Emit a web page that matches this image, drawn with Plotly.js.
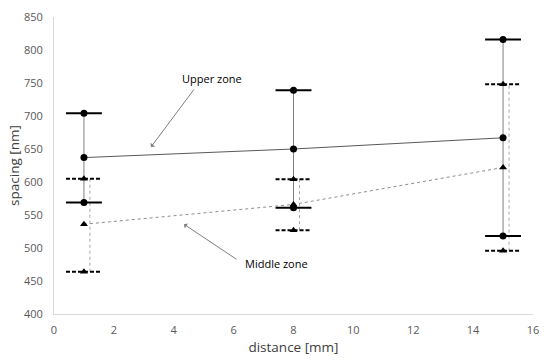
<!DOCTYPE html>
<html>
<head>
<meta charset="utf-8">
<script src="https://cdn.plot.ly/plotly-3.0.1.min.js"></script>
<style>html,body{margin:0;padding:0;background:#fff}#chart{width:550px;height:363px}</style>
</head>
<body>
<div id="chart"></div>
<script>
// Data
var distances = [1, 8, 15];
var upperMean = [637, 650, 667];
var upperHigh = [704, 739, 816];
var upperLow  = [569, 561, 518];
var middleMean = [536, 566, 622];
var middleHigh = [605, 604, 748];
var middleLow  = [464, 527, 496];

// Style constants
var CAP = 0.6;        // half cap width in x units
var MID_OFFSET = 0.2; // offset of middle-zone range line

function segs(xf, y1, y2) {
  var X = [], Y = [];
  for (var i = 0; i < distances.length; i++) {
    var r = xf(distances[i]);
    X.push(r[0], r[1], null);
    Y.push(y1[i], y2[i], null);
  }
  return {x: X, y: Y};
}
function caps(vals) {
  return segs(function (d) { return [d - CAP, d + CAP]; }, vals, vals);
}

var upRange = segs(function (d) { return [d, d]; }, upperLow, upperHigh);
var midRange = segs(function (d) { return [d + MID_OFFSET, d + MID_OFFSET]; }, middleLow, middleHigh);
var upCapsH = caps(upperHigh), upCapsL = caps(upperLow);
var midCapsH = caps(middleHigh), midCapsL = caps(middleLow);

var traces = [
  {x: upRange.x, y: upRange.y, mode: 'lines', line: {color: '#7f7f7f', width: 1}, hoverinfo: 'skip'},
  {x: midRange.x, y: midRange.y, mode: 'lines', line: {color: '#a6a6a6', width: 1, dash: 'dot'}, hoverinfo: 'skip'},
  {x: upCapsH.x.concat(upCapsL.x), y: upCapsH.y.concat(upCapsL.y), mode: 'lines', line: {color: '#000', width: 2}, hoverinfo: 'skip'},
  {x: midCapsH.x.concat(midCapsL.x), y: midCapsH.y.concat(midCapsL.y), mode: 'lines', line: {color: '#000', width: 2, dash: '4px,2px'}, hoverinfo: 'skip'},
  {x: distances, y: upperMean, mode: 'lines', line: {color: '#595959', width: 1}},
  {x: distances, y: middleMean, mode: 'lines', line: {color: '#8c8c8c', width: 1, dash: 'dot'}},
  {x: distances.concat(distances, distances), y: upperMean.concat(upperHigh, upperLow), mode: 'markers',
   marker: {symbol: 'circle', size: 7, color: '#000'}},
  {x: distances.concat(distances, distances), y: middleMean.concat(middleHigh, middleLow), mode: 'markers',
   marker: {symbol: 'triangle-up', size: 7, color: '#000'}}
];

var fontFam = '"Open Sans", "Liberation Sans", sans-serif';
var layout = {
  width: 550, height: 363,
  margin: {l: 54, r: 17, t: 17, b: 49},
  paper_bgcolor: '#fff', plot_bgcolor: '#fff',
  showlegend: false,
  font: {family: fontFam, size: 11, color: '#595959'},
  xaxis: {
    range: [0, 16], dtick: 2, tick0: 0, showgrid: false, zeroline: false,
    showline: true, linecolor: '#d9d9d9', linewidth: 1, ticks: '',
    ticklabelstandoff: 6,
    tickfont: {family: fontFam, size: 11, color: '#595959'},
    title: {text: 'distance [mm]', font: {family: fontFam, size: 13.5, color: '#404040'}, standoff: 6}
  },
  yaxis: {
    range: [400, 850], dtick: 50, tick0: 400, showgrid: false, zeroline: false,
    showline: true, linecolor: '#d9d9d9', linewidth: 1, ticks: '',
    ticklabelstandoff: 8,
    tickfont: {family: fontFam, size: 11, color: '#595959'},
    title: {text: 'spacing [nm]', font: {family: fontFam, size: 13.5, color: '#404040'}, standoff: 1}
  },
  annotations: [
    {x: 3.24, y: 653, xref: 'x', yref: 'y', ax: 44, ay: -59, text: '', showarrow: true,
     arrowhead: 1, arrowsize: 1, arrowwidth: 1, arrowcolor: '#7f7f7f'},
    {x: 5.28, y: 757, xref: 'x', yref: 'y', text: 'Upper zone', showarrow: false,
     font: {family: fontFam, size: 11, color: '#000'}},
    {x: 4.34, y: 536, xref: 'x', yref: 'y', ax: 54, ay: 36, text: '', showarrow: true,
     arrowhead: 1, arrowsize: 1, arrowwidth: 1, arrowcolor: '#7f7f7f'},
    {x: 7.44, y: 477, xref: 'x', yref: 'y', text: 'Middle zone', showarrow: false,
     font: {family: fontFam, size: 11, color: '#000'}}
  ]
};

Plotly.newPlot('chart', traces, layout, {displayModeBar: false, staticPlot: true});
</script>
</body>
</html>
